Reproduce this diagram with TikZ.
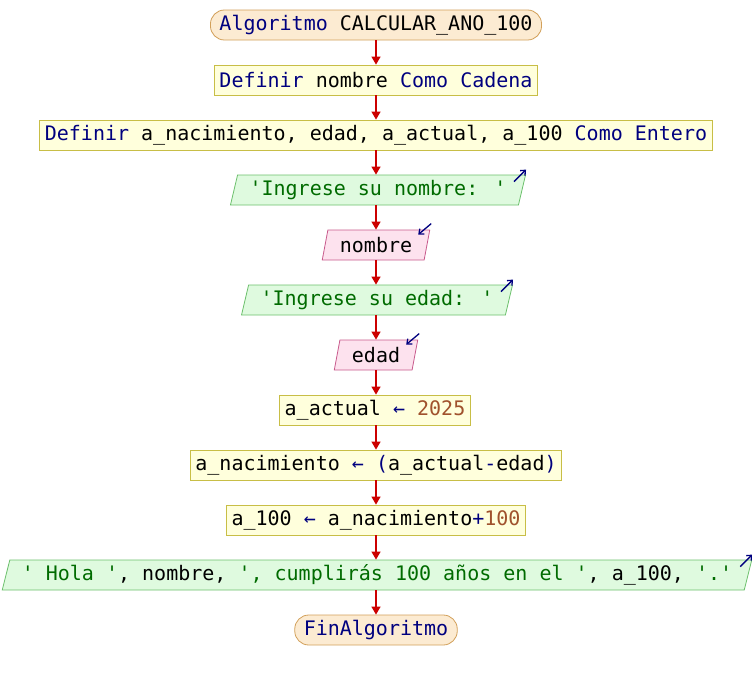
\documentclass[tikz,border=0pt]{standalone}
\usepackage{fontspec}
\newfontfamily\codefont{DejaVu Sans Mono}
\usetikzlibrary{arrows.meta,shapes.geometric,calc}

\definecolor{kwcol}{HTML}{00007F}
\definecolor{strcol}{HTML}{006B00}
\definecolor{numcol}{HTML}{A0522D}
\definecolor{termfill}{HTML}{FCEBD2}
\definecolor{termline}{HTML}{D2A05A}
\definecolor{procfill}{HTML}{FFFFDC}
\definecolor{procline}{HTML}{C8BE46}
\definecolor{outfill}{HTML}{DFFADF}
\definecolor{outline}{HTML}{6CC06C}
\definecolor{infill}{HTML}{FDE2EE}
\definecolor{inline}{HTML}{C85A8C}
\definecolor{flowred}{HTML}{CC0000}

\newcommand\pkw[1]{\textcolor{kwcol}{#1}}
\newcommand\pstr[1]{\textcolor{strcol}{#1}}
\newcommand\pnum[1]{\textcolor{numcol}{#1}}
\newcommand\sq{\textquotesingle}

\tikzset{
  base/.style={font=\codefont\fontsize{20}{24}\selectfont, minimum height=30pt,
    inner ysep=0pt, inner xsep=5pt, line width=0.8pt, text=black},
  termbox/.style={base, rounded corners=14pt, fill=termfill, draw=termline, inner xsep=9pt},
  procbox/.style={base, fill=procfill, draw=procline},
  iobox/.style={base, trapezium, trapezium left angle=70, trapezium right angle=110,
    trapezium stretches body, inner xsep=12pt},
  outbox/.style={iobox, fill=outfill, draw=outline},
  inbox/.style={iobox, fill=infill, draw=inline},
  flow/.style={draw=flowred, line width=1.3pt, -{Triangle[length=8pt,width=9pt]}},
  ioicon/.style={draw=kwcol, line width=1.3pt, -{Straight Barb[length=4pt,width=7pt]}}
}

\begin{document}
\begin{tikzpicture}[x=1pt,y=-1pt]
\useasboundingbox (0,0) rectangle (752,680);

\node[termbox] (start) at (376,25) {\pkw{Algoritmo} CALCULAR\_ANO\_100};
\node[procbox] (defn) at (376,80) {\pkw{Definir} nombre \pkw{Como Cadena}};
\node[procbox] (defe) at (376,135) {\pkw{Definir} a\_nacimiento, edad, a\_actual, a\_100 \pkw{Como Entero}};
\node[outbox] (out1) at (378,190) {\pstr{\sq Ingrese su nombre: \sq}};
\node[inbox] (in1) at (376,245) {nombre};
\node[outbox] (out2) at (377,300) {\pstr{\sq Ingrese su edad: \sq}};
\node[inbox] (in2) at (376,355) {edad};
\node[procbox] (set1) at (375,410) {a\_actual \pkw{←} \pnum{2025}};
\node[procbox] (set2) at (376,465) {a\_nacimiento \pkw{←} \pkw{(}a\_actual\pkw{-}edad\pkw{)}};
\node[procbox] (set3) at (376,520) {a\_100 \pkw{←} a\_nacimiento\pkw{+}\pnum{100}};
\node[outbox] (out3) at (377,575) {\pstr{\sq{} Hola \sq}, nombre, \pstr{\sq, cumplirás 100 años en el \sq}, a\_100, \pstr{\sq.\sq}};
\node[termbox] (stop) at (376,630) {\pkw{FinAlgoritmo}};

\foreach \a/\b in {start/defn, defn/defe, defe/out1, out1/in1, in1/out2,
                   out2/in2, in2/set1, set1/set2, set2/set3, set3/out3, out3/stop}
  \draw[flow] (\a.south -| start.south) -- (\b.north -| start.south);

% output / input markers at the upper right corners
\foreach \n in {out1, out2, out3}
  \draw[ioicon] ($(\n.top right corner)+(-12,7)$) -- ($(\n.top right corner)+(0,-5)$);
\foreach \n in {in1, in2}
  \draw[ioicon] ($(\n.top right corner)+(1,-6)$) -- ($(\n.top right corner)+(-12,5)$);
\end{tikzpicture}
\end{document}
